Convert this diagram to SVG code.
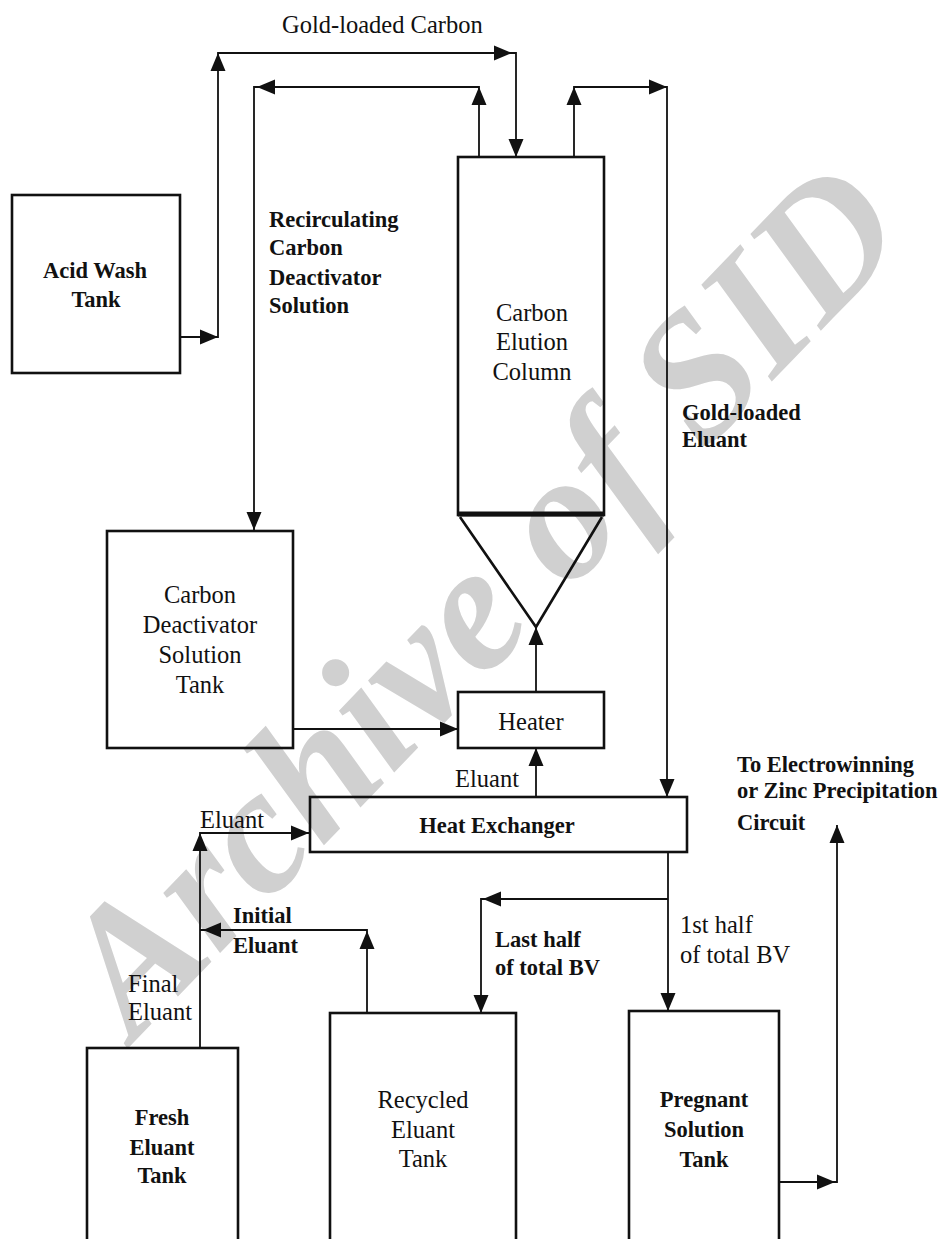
<svg xmlns="http://www.w3.org/2000/svg" xmlns:xlink="http://www.w3.org/1999/xlink" width="944" height="1239" viewBox="0 0 944 1239">
  <defs>
    <path id="ah" d="M0,0 L-18,-7.5 L-18,7.5 Z" fill="#111"/>
  </defs>
  <style>
    .box { fill: none; stroke: #111; stroke-width: 2.6; }
    .ln { fill: none; stroke: #111; stroke-width: 1.8; }
    .t { font-family: "Liberation Serif", "Times New Roman", serif; font-size: 24.5px; fill: #111; }
    .b { font-weight: bold; font-size: 22.5px; }
    .m { text-anchor: middle; }
    .wm { font-family: "Liberation Serif", "Times New Roman", serif; font-size: 180px; font-weight: bold; font-style: italic; fill: #d0d0d0; }
  </style>
  <rect width="944" height="1239" fill="#ffffff"/>
  <text class="wm" transform="translate(134,1042) rotate(-46)">Archive of SID</text>

  <g id="acid-wash-tank">
    <rect class="box" x="12" y="195" width="168" height="178"/>
    <text class="t b m" x="95" y="278">Acid Wash</text>
    <text class="t b m" x="96" y="307">Tank</text>
  </g>
  <g id="carbon-elution-column">
    <rect class="box" x="458" y="157" width="146" height="358"/>
    <line x1="458" y1="514" x2="604" y2="514" stroke="#111" stroke-width="5"/>
    <path class="box" d="M460,517 L536,627 L602,517" stroke-width="3"/>
    <text class="t m" x="532" y="321">Carbon</text>
    <text class="t m" x="532" y="350">Elution</text>
    <text class="t m" x="532" y="380">Column</text>
  </g>
  <g id="carbon-deactivator-tank">
    <rect class="box" x="107" y="531" width="186" height="217"/>
    <text class="t m" x="200" y="603">Carbon</text>
    <text class="t m" x="200" y="633">Deactivator</text>
    <text class="t m" x="200" y="663">Solution</text>
    <text class="t m" x="200" y="693">Tank</text>
  </g>
  <g id="heater">
    <rect class="box" x="458" y="692" width="146" height="56"/>
    <text class="t m" x="531" y="730">Heater</text>
  </g>
  <g id="heat-exchanger">
    <rect class="box" x="310" y="797" width="377" height="55"/>
    <text class="t b m" x="497" y="833">Heat Exchanger</text>
  </g>
  <g id="fresh-eluant-tank">
    <rect class="box" x="87" y="1048" width="151" height="220"/>
    <text class="t b m" x="162" y="1125">Fresh</text>
    <text class="t b m" x="162" y="1155">Eluant</text>
    <text class="t b m" x="162" y="1183">Tank</text>
  </g>
  <g id="recycled-eluant-tank">
    <rect class="box" x="330" y="1013" width="186" height="250"/>
    <text class="t m" x="423" y="1108">Recycled</text>
    <text class="t m" x="423" y="1138">Eluant</text>
    <text class="t m" x="423" y="1167">Tank</text>
  </g>
  <g id="pregnant-solution-tank">
    <rect class="box" x="629" y="1011" width="150" height="250"/>
    <text class="t b m" x="704" y="1107">Pregnant</text>
    <text class="t b m" x="704" y="1137">Solution</text>
    <text class="t b m" x="704" y="1167">Tank</text>
  </g>

  <g id="connectors">
    <path class="ln" d="M180,337 H218 V53 H516 V157"/>
    <path class="ln" d="M479,157 V87 H254 V531"/>
    <path class="ln" d="M574,157 V87 H667 V797"/>
    <path class="ln" d="M536,692 V627"/>
    <path class="ln" d="M293,729 H458"/>
    <path class="ln" d="M536,797 V748"/>
    <path class="ln" d="M200,1048 V833 H310"/>
    <path class="ln" d="M367,1013 V930 H200"/>
    <path class="ln" d="M668,852 V1011"/>
    <path class="ln" d="M668,899 H481 V1013"/>
    <path class="ln" d="M779,1182 H837 V825"/>
    <use xlink:href="#ah" transform="translate(218,337)"/>
    <use xlink:href="#ah" transform="translate(218,53) rotate(-90)"/>
    <use xlink:href="#ah" transform="translate(512,53)"/>
    <use xlink:href="#ah" transform="translate(516,157) rotate(90)"/>
    <use xlink:href="#ah" transform="translate(479,87) rotate(-90)"/>
    <use xlink:href="#ah" transform="translate(257,87) rotate(180)"/>
    <use xlink:href="#ah" transform="translate(254,530) rotate(90)"/>
    <use xlink:href="#ah" transform="translate(574,87) rotate(-90)"/>
    <use xlink:href="#ah" transform="translate(667,87)"/>
    <use xlink:href="#ah" transform="translate(667,797) rotate(90)"/>
    <use xlink:href="#ah" transform="translate(536,627) rotate(-90)"/>
    <use xlink:href="#ah" transform="translate(458,729)"/>
    <use xlink:href="#ah" transform="translate(536,748) rotate(-90)"/>
    <use xlink:href="#ah" transform="translate(309,833)"/>
    <use xlink:href="#ah" transform="translate(200,833) rotate(-90)"/>
    <use xlink:href="#ah" transform="translate(203,930) rotate(180)"/>
    <use xlink:href="#ah" transform="translate(367,931) rotate(-90)"/>
    <use xlink:href="#ah" transform="translate(483,899) rotate(180)"/>
    <use xlink:href="#ah" transform="translate(481,1013) rotate(90)"/>
    <use xlink:href="#ah" transform="translate(668,1011) rotate(90)"/>
    <use xlink:href="#ah" transform="translate(835,1182)"/>
    <use xlink:href="#ah" transform="translate(837,825) rotate(-90)"/>
  </g>

  <g id="labels">
    <text class="t" x="282" y="33">Gold-loaded Carbon</text>
    <text class="t b" x="269" y="227">Recirculating</text>
    <text class="t b" x="269" y="255">Carbon</text>
    <text class="t b" x="269" y="285">Deactivator</text>
    <text class="t b" x="269" y="313">Solution</text>
    <text class="t b" x="682" y="420">Gold-loaded</text>
    <text class="t b" x="682" y="447">Eluant</text>
    <text class="t" x="455" y="787">Eluant</text>
    <text class="t" x="200" y="828">Eluant</text>
    <text class="t b" x="233" y="923">Initial</text>
    <text class="t b" x="233" y="953">Eluant</text>
    <text class="t" x="128" y="992">Final</text>
    <text class="t" x="128" y="1020">Eluant</text>
    <text class="t b" x="495" y="947">Last half</text>
    <text class="t b" x="495" y="975">of total BV</text>
    <text class="t" x="680" y="933">1st half</text>
    <text class="t" x="680" y="963">of total BV</text>
    <text class="t b" x="737" y="772">To Electrowinning</text>
    <text class="t b" x="737" y="798">or Zinc Precipitation</text>
    <text class="t b" x="737" y="830">Circuit</text>
  </g>
</svg>
